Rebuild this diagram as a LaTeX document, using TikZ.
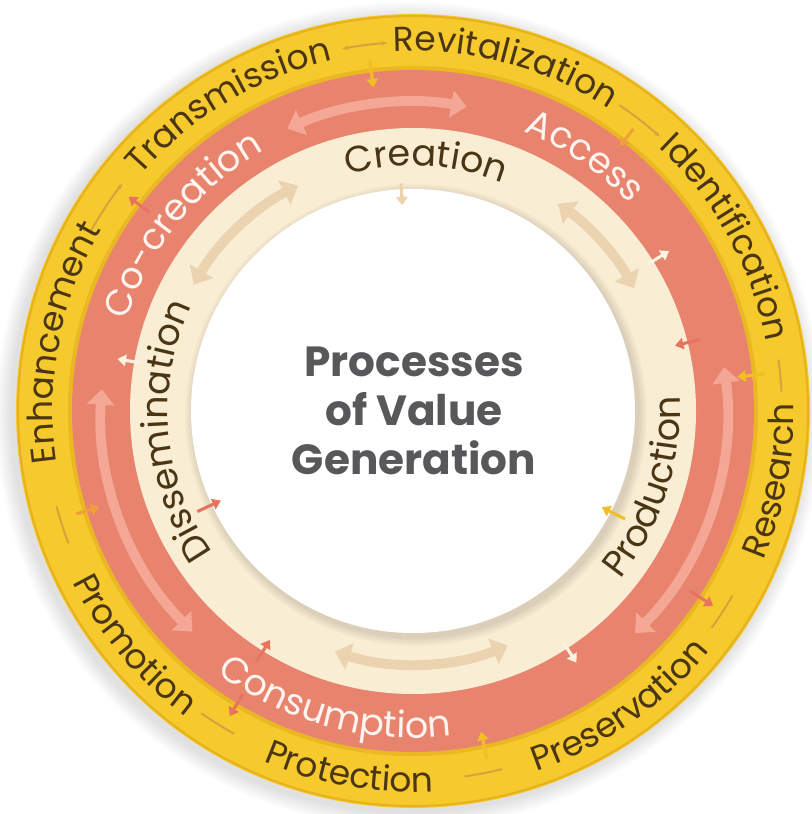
\documentclass[tikz,border=0pt]{standalone}
\usepackage{fontspec}
\setmainfont{Poppins}
\usetikzlibrary{arrows.meta,decorations.text}

\definecolor{ringyellow}{HTML}{F6C92C}
\definecolor{ringyellowedge}{HTML}{E6B21E}
\definecolor{ringred}{HTML}{E8846E}
\definecolor{ringcream}{HTML}{F9EDD4}
\definecolor{wordbrown}{HTML}{4A3615}
\definecolor{wordwhite}{HTML}{FFF4F0}
\definecolor{palered}{HTML}{F3A794}
\definecolor{paletan}{HTML}{EBD3AF}
\definecolor{ochre}{HTML}{D4A23E}
\definecolor{feedyellow}{HTML}{F2BE26}
\definecolor{feedorange}{HTML}{EFA03C}
\definecolor{feedred}{HTML}{E8735E}
\definecolor{feedcream}{HTML}{FBF3E2}
\definecolor{titlegray}{HTML}{58585A}

\newcommand{\ringfont}{\fontsize{24.5}{24.5}\selectfont}
\newcommand{\innerfont}{\fontsize{26}{26}\selectfont}

\tikzset{%
  % Specifications for style of ring labels:
   brownword/.style={
           decorate,
           decoration={text along path, text align=center,
                       text color=wordbrown, text={|\ringfont|#1}}},
   innerword/.style={
           decorate,
           decoration={text along path, text align=center,
                       text color=wordbrown, text={|\innerfont|#1}}},
   whiteword/.style={
           decorate,
           decoration={text along path, text align=center,
                       text color=wordwhite, text={|\innerfont|#1}}},
  % Specifications for style of arrows:
   twoway/.style={
           {Triangle[width=19pt,length=11pt]}-{Triangle[width=19pt,length=11pt]},
           line width=7pt},
   feed/.style={
           -{Triangle[width=8pt,length=6pt]},
           line width=2.2pt},
   joiner/.style={
           ochre, line width=1.4pt},
  % Specifications for style of nodes:
   heading/.style = {align=center, text=titlegray,
                  font=\bfseries\fontsize{30}{35}\selectfont},
}

\begin{document}
\begin{tikzpicture}[x=0.025cm, y=0.025cm]

  \useasboundingbox (-413,-403) rectangle (398,411);
  \fill[white] (-413,-403) rectangle (398,411);

  % Rings
  \coordinate (centre) at (0,0);
  \foreach \g in {1,...,10}
	\fill[black, opacity=0.012] (-4,-4) circle[radius=397+1.6*\g];
  \fill[ringyellow] (centre) circle[radius=397];
  \draw[ringyellowedge, line width=1.5pt] (centre) circle[radius=395];
  \draw[ringyellowedge, line width=3pt, opacity=0.7] (centre) circle[radius=343];
  \fill[ringred] (centre) circle[radius=341];
  \fill[ringcream] (centre) circle[radius=283];
  \foreach \g in {1,...,6}
	\fill[black, opacity=0.02] (3,-4) circle[radius=222+1.5*\g];
  \fill[white] (centre) circle[radius=222];

  % Two-way arrows inside the rings
	\draw[twoway, palered]	(114:309) arc[start angle=114, end angle=80, radius=309];
	\draw[twoway, palered]	(8:314) arc[start angle=8, end angle=-45, radius=314];
	\draw[twoway, palered]	(176:312) arc[start angle=176, end angle=225, radius=312];
	\draw[twoway, paletan]	(150:253) arc[start angle=150, end angle=117, radius=253];
	\draw[twoway, paletan]	(55:253) arc[start angle=55, end angle=29, radius=253];
	\draw[twoway, paletan]	(-68:253) arc[start angle=-68, end angle=-108, radius=253];

  % Joiners between the outer labels
	\draw[joiner, {Stealth[length=4pt]}-{Stealth[length=4pt]}]	(101:369) arc[start angle=101, end angle=94, radius=369];
	\draw[joiner, -{Stealth[length=4pt]}]	(56:369) arc[start angle=56, end angle=48, radius=369];
	\draw[joiner]	(8:369) arc[start angle=8, end angle=3, radius=369];
	\draw[joiner]	(-30:369) arc[start angle=-30, end angle=-36, radius=369];
	\draw[joiner]	(-76:369) arc[start angle=-76, end angle=-82, radius=369];
	\draw[joiner]	(-119:369) arc[start angle=-119, end angle=-125, radius=369];
	\draw[joiner]	(195:369) arc[start angle=195, end angle=201, radius=369];
	\draw[joiner, -{Stealth[length=4pt]}]	(151:369) arc[start angle=151, end angle=142, radius=369];

  % Feeds across the ring borders
	\draw[feed, feedyellow]	(97:354) -- (97:326);
	\draw[feed, feedorange]	(52:358) -- (52:336);
	\draw[feed, feedyellow]	(6:354) -- (6:326);
	\draw[feed, feedyellow]	(-78:356) -- (-78:328);
	\draw[feed, feedorange]	(197:352) -- (197:328);
	\draw[feed, feedred]	(-33:330) -- (-33:358);
	\draw[feed, feedred]	(239:330) -- (239:356);
	\draw[feed, feedred]	(143:330) -- (143:356);
	\draw[feed, feedcream]	(32:276) -- (32:302);
	\draw[feed, feedcream]	(-57:276) -- (-57:300);
	\draw[feed, feedcream]	(170:276) -- (170:300);
	\draw[feed, feedred]	(14:296) -- (14:270);
	\draw[feed, feedred]	(238:296) -- (238:270);
	\draw[feed, feedred]	(205:238) -- (205:212);
	\draw[feed, feedyellow]	(-27:238) -- (-27:212);
	\draw[feed, paletan]	(93:228) -- (93:206);

  % Outer labels
	\path[brownword=Transmission]	(191:360) arc[start angle=191, end angle=51, radius=360];
	\path[brownword=Revitalization]	(145:360) arc[start angle=145, end angle=5, radius=360];
	\path[brownword=Identification]	(99:360) arc[start angle=99, end angle=-41, radius=360];
	\path[brownword=Enhancement]	(239:360) arc[start angle=239, end angle=99, radius=360];
	\path[brownword=Research]	(-81:381) arc[start angle=-81, end angle=59, radius=381];
	\path[brownword=Preservation]	(-125:381) arc[start angle=-125, end angle=15, radius=381];
	\path[brownword=Protection]	(-170:381) arc[start angle=-170, end angle=-30, radius=381];
	\path[brownword=Promotion]	(150:381) arc[start angle=150, end angle=290, radius=381];

  % Middle labels
	\path[whiteword=Co-creation]	(211:300) arc[start angle=211, end angle=71, radius=300];
	\path[whiteword=Access]	(126:300) arc[start angle=126, end angle=-14, radius=300];
	\path[whiteword=Consumption]	(-175:327) arc[start angle=-175, end angle=-35, radius=327];

  % Inner labels
	\path[innerword=Creation]	(157:245) arc[start angle=157, end angle=17, radius=245];
	\path[innerword=Dissemination]	(255:245) arc[start angle=255, end angle=115, radius=245];
	\path[innerword=Production]	(-88:267) arc[start angle=-88, end angle=52, radius=267];

  % Title
  \node (value_block)	[heading]	at (1,0)	{Processes\\of Value\\Generation};

\end{tikzpicture}
\end{document}
